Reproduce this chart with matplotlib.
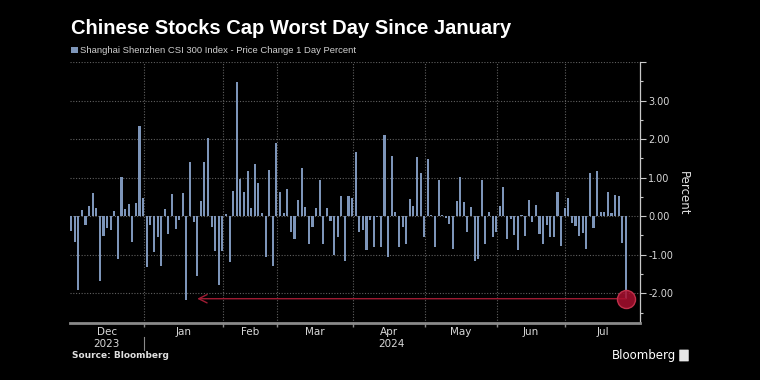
import matplotlib
matplotlib.use('Agg')
import matplotlib.pyplot as plt
import matplotlib.transforms as mtransforms
from matplotlib import font_manager
from matplotlib.patches import FancyBboxPatch
import numpy as np

# daily % change, CSI 300, by month (trading days only)
dec_2023 = [-0.38, -0.66, -1.91, 0.16, -0.24, 0.26, 0.60, 0.22, -1.67, -0.52, -0.31,
            -0.36, 0.14, -1.10, 1.02, 0.19, 0.31, -0.67, 0.34, 2.34, 0.48]
jan_2024 = [-1.31, -0.22, -0.93, -0.53, -1.29, 0.19, -0.47, 0.57, -0.34, -0.09, 0.60,
            -2.17, 1.41, -0.16, -1.55, 0.40, 1.40, 2.02, -0.28, -0.90, -1.79, -0.91]
feb_2024 = [0.07, -1.19, 0.66, 3.48, 0.97, 0.64, 1.16, 0.21, 1.35, 0.86, 0.09, -1.05,
            1.21, -1.28, 1.91]
mar_2024 = [0.62, 0.09, 0.71, -0.41, -0.60, 0.43, 1.26, 0.24, -0.71, -0.29, 0.22, 0.95,
            -0.71, 0.22, -0.12, -1.00, -0.53, 0.52, -1.16, 0.53, 0.48]
apr_2024 = [1.66, -0.41, -0.36, -0.88, -0.09, -0.81, -0.02, -0.81, 2.10, -1.07, 1.55,
            0.12, -0.79, -0.29, -0.71, 0.45, 0.26, 1.53, 1.12, -0.53]
may_2024 = [1.48, 0.03, -0.79, 0.95, 0.03, -0.05, -0.21, -0.84, 0.40, 1.03, 0.36, -0.41,
            0.24, -1.17, -1.12, 0.95, -0.72, 0.12, -0.53, -0.41]
jun_2024 = [0.26, 0.76, -0.59, -0.07, -0.50, -0.88, 0.03, -0.52, 0.43, -0.16, 0.28,
            -0.47, -0.72, -0.22, -0.53, -0.53, 0.64, -0.76, 0.22]
jul_2024 = [0.48, -0.17, -0.26, -0.52, -0.43, -0.86, 1.12, -0.31, 1.16, 0.12, 0.12,
            0.64, 0.09, 0.55, 0.52, -0.69, -2.14]

month_data = [dec_2023, jan_2024, feb_2024, mar_2024, apr_2024, may_2024, jun_2024, jul_2024]
month_labels = ['Dec', 'Jan', 'Feb', 'Mar', 'Apr', 'May', 'Jun', 'Jul']
year_labels = ['2023', '2024']

series_name = 'Shanghai Shenzhen CSI 300 Index - Price Change 1 Day Percent'
title = 'Chinese Stocks Cap Worst Day Since January'


def have_font(name):
    try:
        font_manager.findfont(font_manager.FontProperties(family=name),
                              fallback_to_default=False)
        return True
    except ValueError:
        return False


sans = 'Liberation Sans' if have_font('Liberation Sans') else 'DejaVu Sans'

values = np.concatenate(month_data)
x = np.arange(len(values))
lengths = np.array([len(m) for m in month_data])
last_idx = np.cumsum(lengths) - 1          # last trading day of each month
x_left, x_right = -0.3, len(values) + 2.9

fig = plt.figure(figsize=(7.6, 3.8), dpi=100, facecolor='black')
ax = fig.add_axes([0.0921, 0.15, 0.75, 0.6868])
ax.set_facecolor('black')

bar_color = '#7d95b9'
bars = ax.bar(x, values, width=0.58, color=bar_color, zorder=3)

ax.set_xlim(x_left, x_right)
ax.set_ylim(-2.77, 4.0)

# grid
grid_kw = dict(color='#606060', linestyle=(0, (1, 1.5)), linewidth=0.8)
for v in range(-2, 5):
    ax.axhline(v, zorder=1, **grid_kw)
for b in last_idx[:-1]:
    ax.axvline(b + 0.15, zorder=1, **grid_kw)

# spines
for s in ['left', 'top']:
    ax.spines[s].set_visible(False)
ax.spines['right'].set_color('#c8c8c8')
ax.spines['right'].set_linewidth(0.9)
ax.spines['bottom'].set_color('#8a8a8a')
ax.spines['bottom'].set_linewidth(2)

# y axis on the right
ax.yaxis.tick_right()
ax.set_yticks(range(-2, 5))
ax.set_yticklabels(['%.2f' % v if v < 4 else '' for v in range(-2, 5)])
ax.set_yticks(np.arange(-2.5, 4.0, 1.0), minor=True)
ax.tick_params(axis='y', which='major', colors='#c8c8c8', labelcolor='#d8d8d8',
               labelsize=7, length=4, width=0.8, pad=2)
ax.tick_params(axis='y', which='minor', colors='#c8c8c8', length=2.5, width=0.8)

# x axis: ticks at month ends, labels centred in each month
edges = np.concatenate([[x_left], last_idx[:-1] + 0.15, [x_right]])
centers = (edges[:-1] + edges[1:]) / 2
ax.set_xticks(last_idx[:-1] + 0.15)
ax.set_xticklabels([])
ax.set_xticks(centers, minor=True)
ax.set_xticklabels(month_labels, minor=True)
ax.tick_params(axis='x', which='major', colors='#8a8a8a', length=3, width=1)
ax.tick_params(axis='x', which='minor', length=0, labelcolor='#d8d8d8',
               labelsize=7.5, pad=3)

trans = mtransforms.blended_transform_factory(ax.transData, ax.transAxes)
year_start = edges[1]
ax.text(centers[0], -0.08, year_labels[0], transform=trans, ha='center', va='center',
        fontsize=7.5, color='#d8d8d8')
ax.text((year_start + x_right) / 2, -0.08, year_labels[1], transform=trans,
        ha='center', va='center', fontsize=7.5, color='#d8d8d8')
ax.plot([year_start, year_start], [-0.055, -0.105], transform=trans, color='#8a8a8a',
        lw=0.8, clip_on=False)

# highlight the last day and point back to the January low
jan_start = lengths[0]
jan_low = jan_start + int(np.argmin(jan_2024))
arrow_tip = jan_low + 3
ax.annotate('', xy=(arrow_tip, values[-1]), xytext=(x[-1], values[-1]),
            arrowprops=dict(arrowstyle='->,head_length=0.6,head_width=0.3',
                            color='#a01c34', lw=1.0, shrinkA=0, shrinkB=0),
            zorder=4)
ax.plot(x[-1], values[-1], 'o', ms=13, mfc=(0.66, 0.06, 0.18, 0.85),
        mec='#c0304a', mew=1, zorder=5)

# texts
fig.text(0.094, 0.926, title, fontsize=14.5, fontweight='bold', color='white',
         va='center', family=sans)
ax.legend([bars], [series_name], loc='center left', bbox_to_anchor=(0.094, 0.866),
          bbox_transform=fig.transFigure, frameon=False, handlelength=0.65,
          handleheight=0.65, handletextpad=0.3, borderpad=0, borderaxespad=0,
          prop={'family': sans, 'size': 6.8}, labelcolor='#cfcfcf')
fig.text(683 / 760, 1 - 193 / 380, 'Percent', rotation=270, fontsize=8.5,
         color='#e0e0e0', ha='center', va='center')
fig.text(72 / 760, 1 - 356 / 380, 'Source: Bloomberg', fontsize=6.5, fontweight='bold',
         color='#e0e0e0', va='center')
fig.text(612 / 760, 1 - 355 / 380, 'Bloomberg', fontsize=8.5, color='white', va='center')
fig.patches.append(FancyBboxPatch((680 / 760, 1 - 361 / 380), 8 / 760, 11 / 380,
                                  boxstyle='round,pad=0.001', transform=fig.transFigure,
                                  facecolor='#e8e8e8', edgecolor='none'))

fig.savefig('out.png', dpi=100, facecolor='black')
